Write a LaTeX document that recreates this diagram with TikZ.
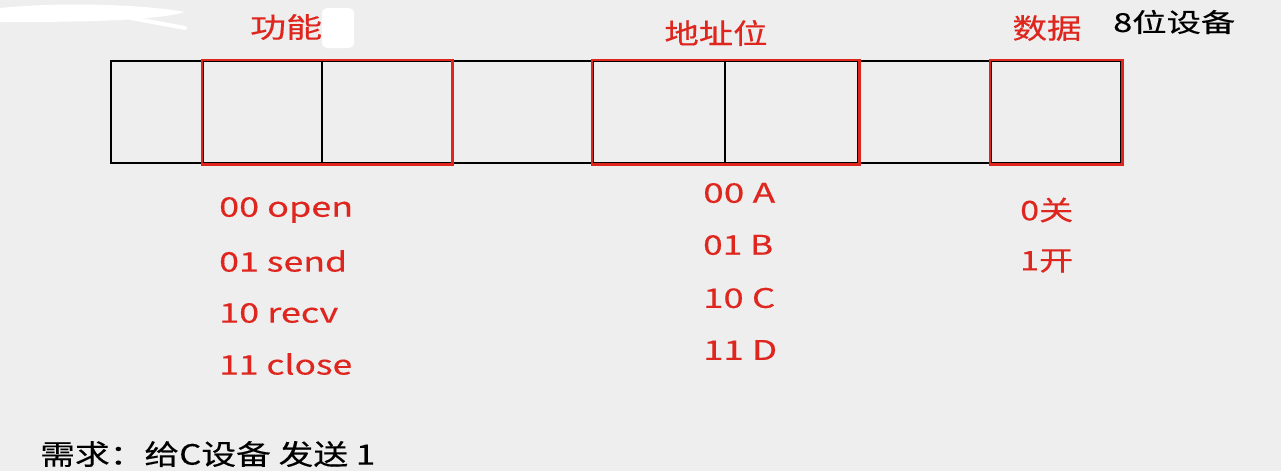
\documentclass[tikz,border=0pt]{standalone}
\usepackage{fontspec}
\usepackage{graphicx}
\setmainfont{Noto Sans CJK SC}
\newfontfamily\heavyfont{Noto Sans CJK SC}[FakeBold=0.35]
\definecolor{bg}{RGB}{238,238,238}
\definecolor{myred}{RGB}{222,38,30}
\newcommand\fw[2]{\resizebox{#1}{\height}{#2}}
\tikzset{
  cell/.style={draw=black, line width=2.4pt, minimum height=102pt, inner sep=0pt, anchor=north west},
  redbox/.style={draw=myred, line width=2.6pt},
  lab/.style={text=myred, inner sep=0pt, font=\heavyfont\fontsize{28pt}{30pt}\selectfont},
  item/.style={text=myred, inner sep=0pt, anchor=west, font=\heavyfont\fontsize{27pt}{29pt}\selectfont},
  blk/.style={text=black, inner sep=0pt, anchor=west},
}
\begin{document}
\begin{tikzpicture}[x=1pt,y=-1pt]
\fill[bg] (0,0) rectangle (1281,471);
\useasboundingbox (0,0) rectangle (1281,471);
% white smudges
\fill[white] (0,8) .. controls (60,2) and (140,4) .. (185,12) .. controls (150,22) and (60,22) .. (0,22) -- cycle;
\draw[white, line width=4pt, line cap=round] (120,16) -- (185,28);
\fill[white, rounded corners=5pt] (322,8) rectangle (354,48);
% cells
\node[cell, minimum width=92pt]  (c1) at (110,60) {};
\node[cell, minimum width=119pt] (c2) at (202,60) {};
\node[cell, minimum width=131pt] (c3) at (321,60) {};
\node[cell, minimum width=140pt] (c4) at (452,60) {};
\node[cell, minimum width=132pt] (c5) at (592,60) {};
\node[cell, minimum width=133pt] (c6) at (724,60) {};
\node[cell, minimum width=133pt] (c7) at (857,60) {};
\node[cell, minimum width=130pt] (c8) at (990,60) {};
% red groups
\draw[redbox] (c2.north west) rectangle ([xshift=-2pt]c3.south east);
\draw[redbox] (c5.north west) rectangle (c6.south east);
\draw[redbox] (c8.north west) rectangle (c8.south east);
% labels
\node[lab, anchor=west] (fn) at (250,27) {\fw{72pt}{功能}};
\node[lab] (addr) at (716,33) {\fw{103pt}{地址位}};
\node[lab] (data) at (1047,28) {\fw{69pt}{数据}};
\node[blk, font=\heavyfont\fontsize{26pt}{28pt}\selectfont] (dev) at (1113,22) {\fw{122pt}{8位设备}};
% function codes
\node[item] (f0) at (219,210) {\fw{134pt}{00 open}};
\node[item] (f1) at (219,261) {\fw{128pt}{01 send}};
\node[item] (f2) at (219,313) {\fw{119pt}{10 recv}};
\node[item] (f3) at (219,364) {\fw{133pt}{11 close}};
% address codes
\node[item] (a0) at (703,193) {\fw{72pt}{00 A}};
\node[item] (a1) at (703,245) {\fw{70pt}{01 B}};
\node[item] (a2) at (703,298) {\fw{72pt}{10 C}};
\node[item] (a3) at (703,350) {\fw{74pt}{11 D}};
% data codes
\node[item] (d0) at (1020,210) {\fw{53pt}{0关}};
\node[item] (d1) at (1020,261) {\fw{53pt}{1开}};
% requirement
\node[blk, font=\heavyfont\fontsize{28pt}{30pt}\selectfont] (req) at (40,454) {\fw{335pt}{需求：给C设备 发送 1}};
\end{tikzpicture}
\end{document}
